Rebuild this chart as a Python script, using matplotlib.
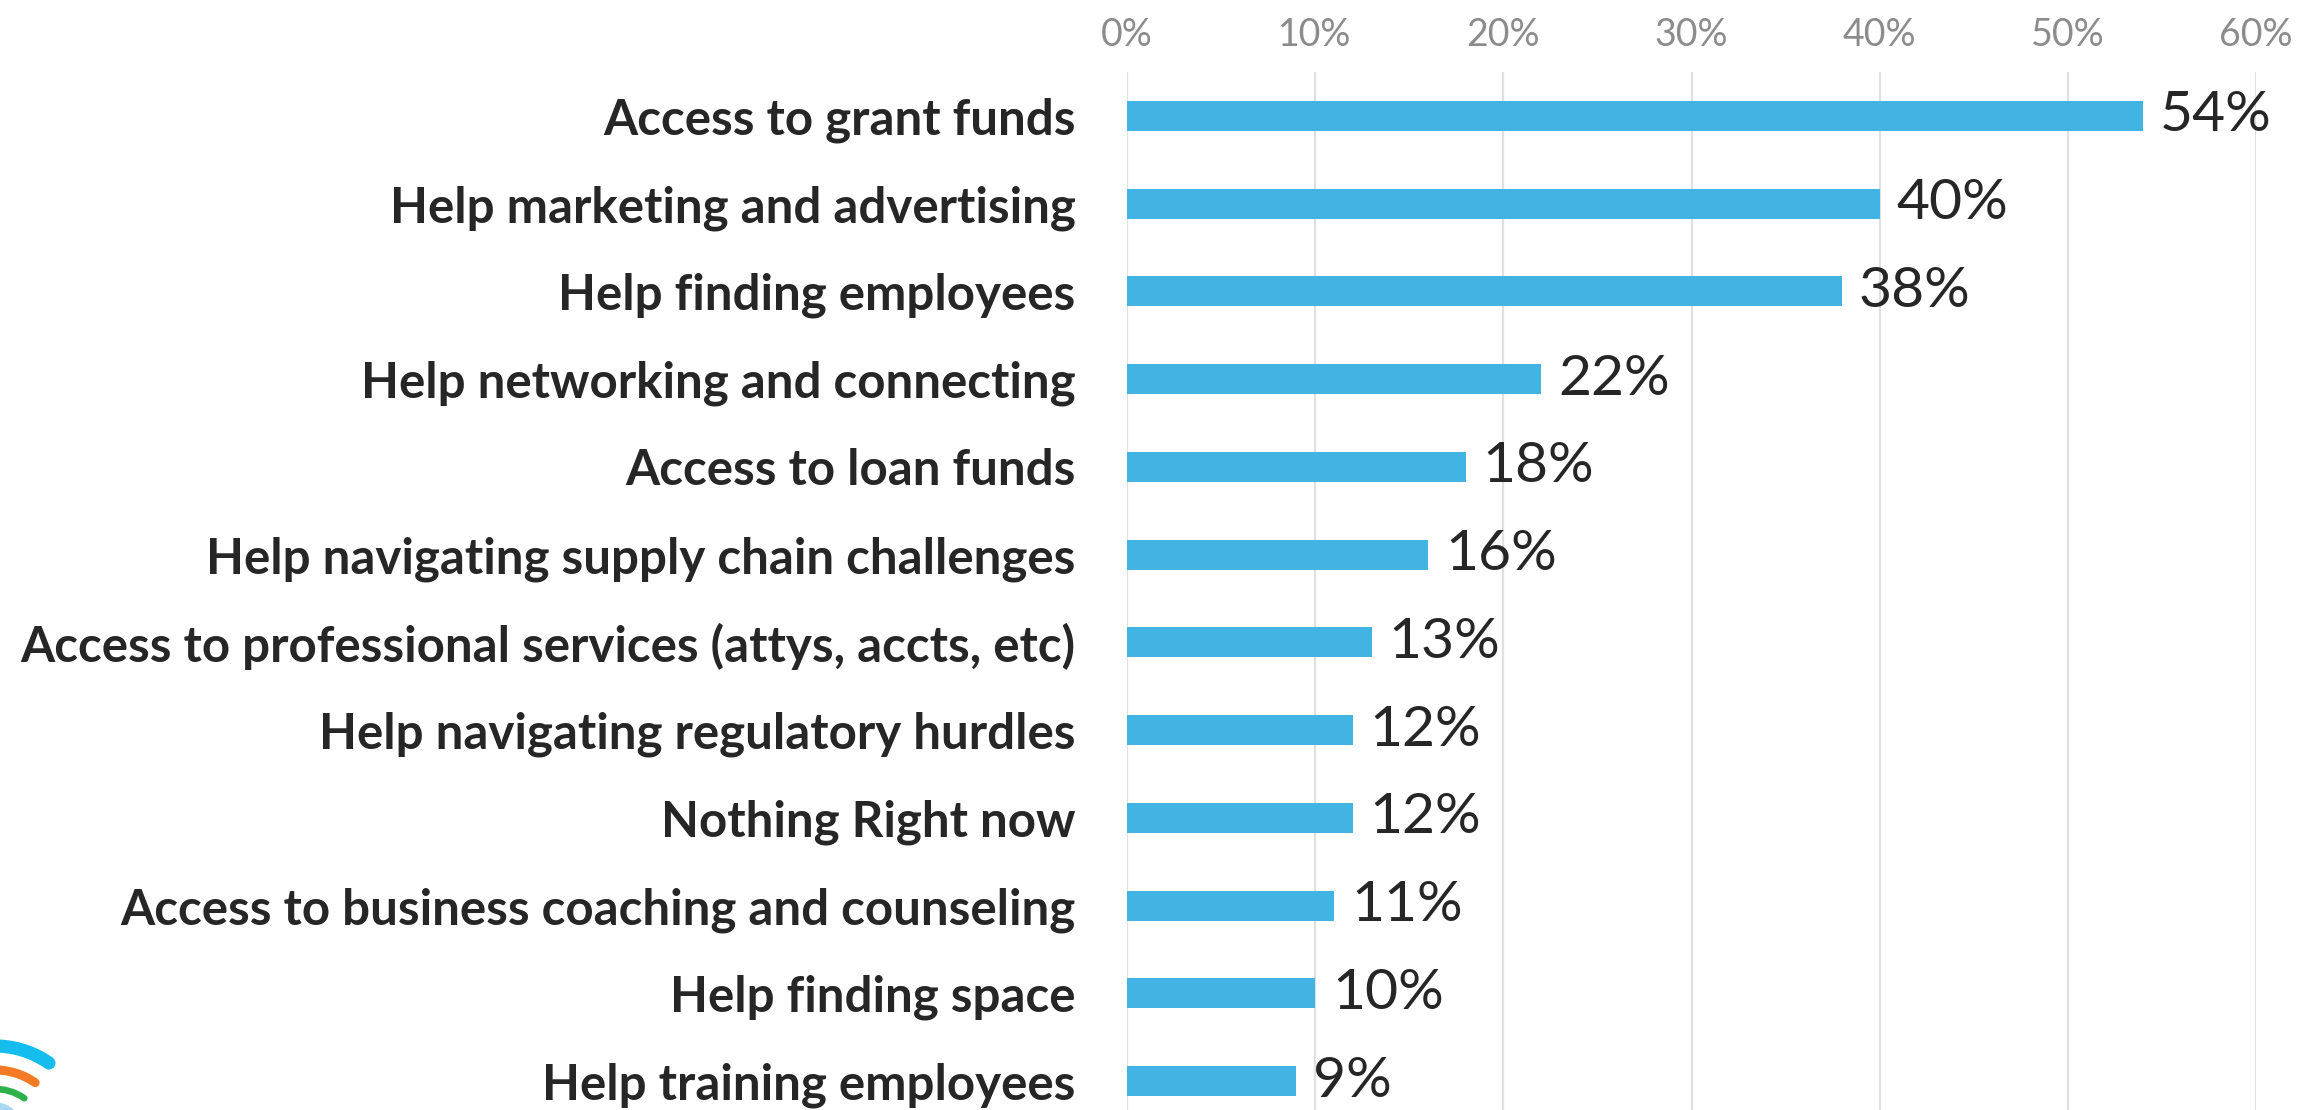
import matplotlib
matplotlib.use("Agg")
import matplotlib.pyplot as plt
import numpy as np
from matplotlib.patches import Arc, Circle

categories = [
    "Access to grant funds",
    "Help marketing and advertising",
    "Help finding employees",
    "Help networking and connecting",
    "Access to loan funds",
    "Help navigating supply chain challenges",
    "Access to professional services (attys, accts, etc)",
    "Help navigating regulatory hurdles",
    "Nothing Right now",
    "Access to business coaching and counseling",
    "Help finding space",
    "Help training employees",
]
values = [54, 40, 38, 22, 18, 16, 13, 12, 12, 11, 10, 9]
xticks = [0, 10, 20, 30, 40, 50, 60]
xtick_labels = ["0%", "10%", "20%", "30%", "40%", "50%", "60%"]

FONT = "Lato"
W, H = 2310, 1110
fig = plt.figure(figsize=(W / 100, H / 100), dpi=100)

x0, x1 = 1127 / W, 2256 / W
ytop = 1 - 72 / H
ybot = 1 - 1125 / H
ax = fig.add_axes([x0, ybot, x1 - x0, ytop - ybot])

n = len(categories)
ypos = np.arange(n)
ax.barh(ypos, values, height=0.34, color="#42B4E4", zorder=2)
ax.set_ylim(n - 0.5, -0.5)
ax.set_xlim(0, 60)
ax.set_xticks(xticks)
ax.set_xticklabels(xtick_labels, fontfamily=FONT, fontsize=27, color="#8C8C8C")
ax.xaxis.tick_top()
ax.tick_params(axis="x", length=0, pad=14)
ax.set_yticks(ypos)
ax.set_yticklabels(categories, fontfamily=FONT, fontweight="bold", fontsize=35.5, color="#262626")
ax.tick_params(axis="y", length=0, pad=37)
ax.grid(axis="x", color="#E0E0E0", linewidth=1.6, zorder=0)
for s in ax.spines.values():
    s.set_visible(False)

for y, v in zip(ypos, values):
    ax.text(v + 0.9, y, f"{v}%", va="center", ha="left", fontfamily=FONT,
            fontsize=41, color="#262626")

# logo decoration at bottom-left
lax = fig.add_axes([0, 0, 1, 1], zorder=5)
lax.set_xlim(0, W)
lax.set_ylim(H, 0)
lax.axis("off")
cx, cy = -5, 1140
for r, lw, col in [(94, 9.5, "#15BDEF"), (70, 6.5, "#F47A25"), (51, 4.8, "#2DB24A")]:
    lax.add_patch(Arc((cx, cy), 2 * r, 2 * r, theta1=-90 - 40, theta2=-90 + 35,
                      linewidth=lw, color=col, capstyle="round"))
lax.add_patch(Circle((cx, cy - 10), 27, color="#A9D8F3"))

fig.savefig("out.png", dpi=100)
